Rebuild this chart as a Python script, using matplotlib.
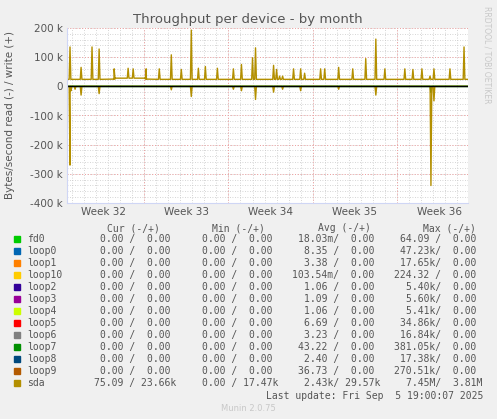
import matplotlib
matplotlib.use("Agg")
import matplotlib.pyplot as plt
import numpy as np
from matplotlib.ticker import MultipleLocator, FuncFormatter

# ---- data (time in days from left edge of graph) ----
write_spike_t = [0.25,1.17,2.08,2.67,3.92,5.08,5.5,6.58,7.67,8.67,9.5,10.33,10.92,11.5,12.5,13.83,14.5,15.42,15.67,17.17,17.42,17.67,17.92,18.83,19.42,19.75,21.08,21.42,22.58,23.75,24.83,25.67,26.42,28.08,28.75,29.5,30.17,30.5,31.83,33.0]
write_spike_v = [135,65,135,128,60,62,60,60,60,108,58,193,62,68,62,60,75,98,132,72,58,35,35,60,60,45,60,60,65,60,95,162,60,60,58,60,35,60,60,135]
write_base_t = [0.0, 3.9, 4.0, 6.5, 6.6, 33.33]
write_base_v = [24, 24, 28, 28, 24, 24]
read_spike_t = [0.25,0.33,0.67,1.17,2.67,8.67,10.33,13.83,14.5,15.67,17.17,17.92,19.42,22.58,25.67,30.25,30.5]
read_spike_v = [-270,-15,-10,-30,-25,-12,-35,-10,-15,-45,-20,-10,-15,-10,-30,-340,-50]
loop7_spike_t = [30.25]
loop7_spike_v = [-20]

week_starts = [6.42, 13.42, 20.42, 27.42]
week_labels = ["Week 32", "Week 33", "Week 34", "Week 35", "Week 36"]
week_label_pos = [3.0, 9.92, 16.92, 23.92, 30.92]

names = ["fd0","loop0","loop1","loop10","loop2","loop3","loop4","loop5","loop6","loop7","loop8","loop9","sda"]
colors = ["#00CC00","#0066B3","#FF8000","#FFCC00","#330099","#990099","#CCFF00","#FF0000","#808080","#008F00","#00487D","#B35A00","#B38F00"]
cur = ["0.00 /  0.00"]*12 + ["75.09 / 23.66k"]
mins = ["0.00 /  0.00"]*12 + ["0.00 / 17.47k"]
avgs = ["18.03m/  0.00","8.35 /  0.00","3.38 /  0.00","103.54m/  0.00","1.06 /  0.00","1.09 /  0.00","1.06 /  0.00","6.69 /  0.00","3.23 /  0.00","43.22 /  0.00","2.40 /  0.00","36.73 /  0.00","2.43k/ 29.57k"]
maxs = ["64.09 /  0.00","47.23k/  0.00","17.65k/  0.00","224.32 /  0.00","5.40k/  0.00","5.60k/  0.00","5.41k/  0.00","34.86k/  0.00","16.84k/  0.00","381.05k/  0.00","17.38k/  0.00","270.51k/  0.00","7.45M/  3.81M"]

def build(base_t, base_v, st, sv, w=0.07):
    t = list(base_t); v = list(base_v)
    for s, h in zip(st, sv):
        b = np.interp(s, base_t, base_v)
        t += [s - w, s, s + w]; v += [b, h, b]
    o = np.argsort(t, kind="stable")
    return np.array(t)[o], np.array(v)[o]

W, H = 497, 419
fig = plt.figure(figsize=(W/100, H/100), dpi=100, facecolor="#F0F0F0")
L, R, T, B = 67, 468, 28, 203
ax = fig.add_axes([L/W, 1-B/H, (R-L)/W, (B-T)/H])
ax.set_facecolor("white")
ax.set_xlim(0, 33.33); ax.set_ylim(-400, 200)

# grid
for d in np.arange(0.42, 33.4, 1.0):
    ax.axvline(d, color="#c8c8c8", lw=0.6, ls=(0, (1, 2)), zorder=0)
for y in np.arange(-400, 201, 20):
    ax.axhline(y, color="#c8c8c8", lw=0.6, ls=(0, (1, 2)), zorder=0)
for d in week_starts:
    ax.axvline(d, color="#f0a0a0", lw=0.7, ls=(0, (1, 2)), zorder=0)
for y in np.arange(-400, 201, 100):
    ax.axhline(y, color="#f0a0a0", lw=0.7, ls=(0, (1, 2)), zorder=0)

wt, wv = build(write_base_t, write_base_v, write_spike_t, write_spike_v)
rt, rv = build([0, 33.33], [0, 0], read_spike_t, read_spike_v)
lt, lv = build([0, 33.33], [0, 0], loop7_spike_t, loop7_spike_v, 0.05)
ax.plot(lt, lv, color="#008F00", lw=1.2)
ax.plot(wt, wv, color="#B38F00", lw=1.0)
ax.plot(rt, rv, color="#B38F00", lw=1.0)
ax.axhline(0, color="black", lw=1.0)

ax.yaxis.set_major_locator(MultipleLocator(100))
ax.yaxis.set_major_formatter(FuncFormatter(lambda v, p: "0" if v == 0 else f"{int(v)} k"))
ax.set_xticks(week_label_pos); ax.set_xticklabels(week_labels)
ax.tick_params(length=0, labelsize=7.5, colors="#555555", pad=3)
for s in ax.spines.values():
    s.set_visible(False)
ax.spines["left"].set_visible(True); ax.spines["bottom"].set_visible(True)
ax.spines["left"].set_color("#cfd6f5"); ax.spines["bottom"].set_color("#cfd6f5")

def fx(x): return x / W
def fy(y): return 1 - y / H
fig.text(fx(248), fy(19), "Throughput per device - by month", ha="center", va="center", fontsize=9.5, color="#555555")
fig.text(fx(10), fy(115), "Bytes/second read (-) / write (+)", rotation=90, ha="center", va="center", fontsize=7.5, color="#555555")
fig.text(fx(487), fy(6), "RRDTOOL / TOBI OETIKER", rotation=270, ha="center", va="top", fontsize=5.5, color="#c8c8c8")

mono = dict(family="DejaVu Sans Mono", fontsize=7, color="#555555", va="center")
for x, h in zip([107, 212, 318, 423], ["Cur (-/+)", "Min (-/+)", "Avg (-/+)", "Max (-/+)"]):
    fig.text(fx(x), fy(228), h, **mono)
for i, n in enumerate(names):
    y = 239 + 12 * i
    fig.patches.append(matplotlib.patches.Rectangle((fx(14), fy(y + 3)), 6/W, 6/H, transform=fig.transFigure, color=colors[i]))
    fig.text(fx(27), fy(y), n, **mono)
    for xr, s in zip([170, 272, 374, 476], [cur[i], mins[i], avgs[i], maxs[i]]):
        extra = 6 if s.endswith("k") or s.endswith("M") else 0
        fig.text(fx(xr + extra), fy(y), s, ha="right", **{k: v for k, v in mono.items()})
fig.text(fx(483), fy(396), "Last update: Fri Sep  5 19:00:07 2025", ha="right", **mono)
fig.text(fx(248), fy(408), "Munin 2.0.75", ha="center", va="center", fontsize=6, color="#c8c8c8")

fig.savefig("out.png", dpi=100, facecolor=fig.get_facecolor())
